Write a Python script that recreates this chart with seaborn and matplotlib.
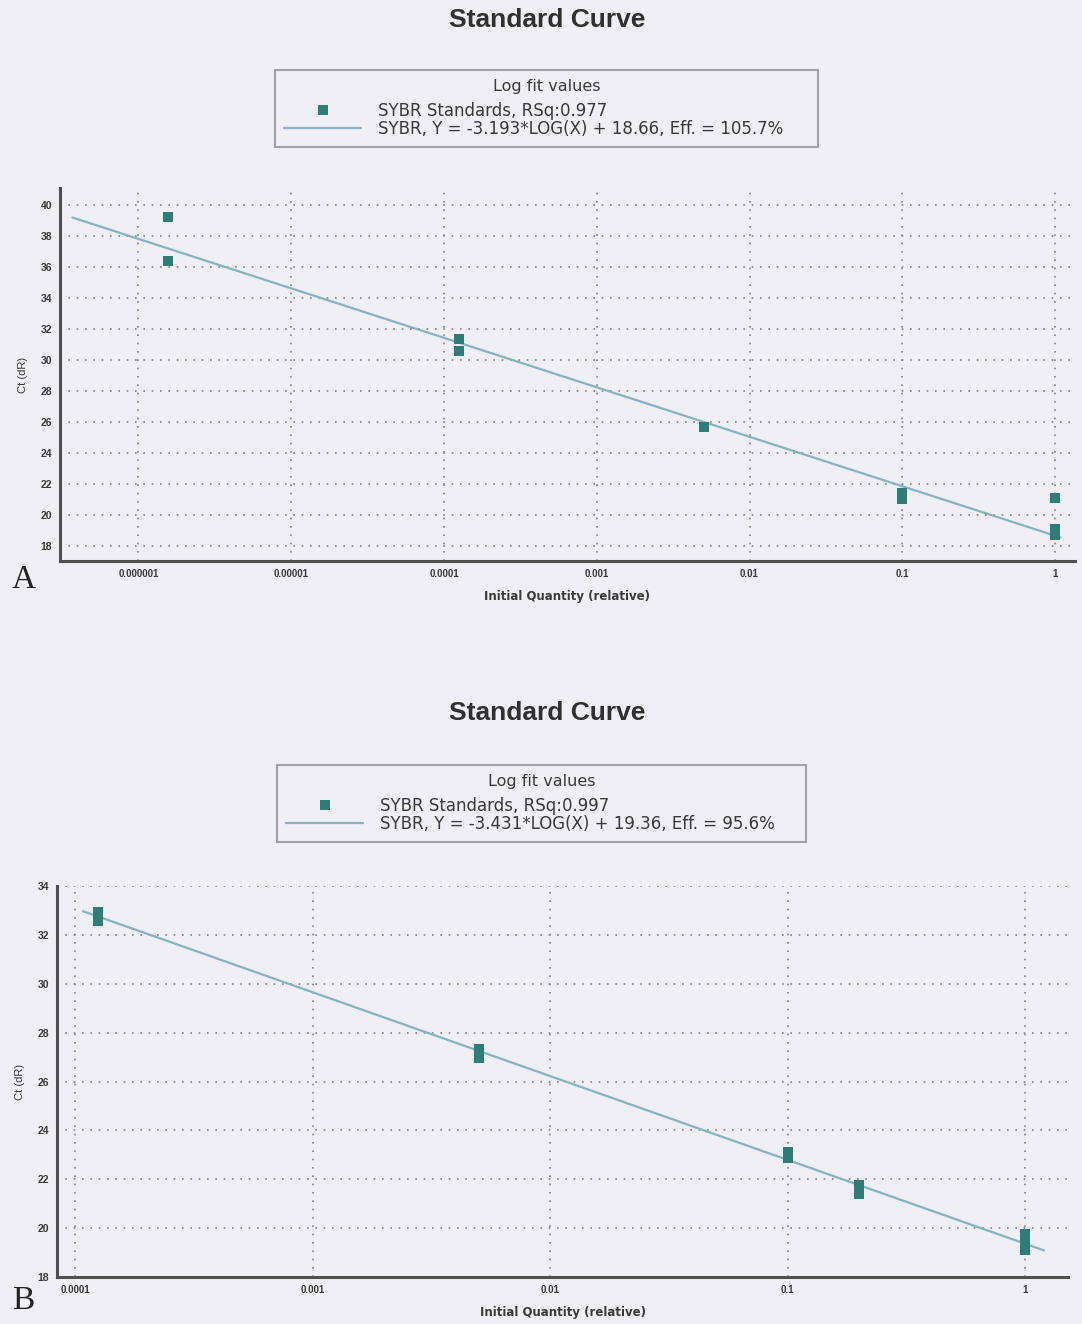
import numpy as np
import pandas as pd
import matplotlib
matplotlib.use("Agg")
import matplotlib.pyplot as plt
from matplotlib.lines import Line2D
from matplotlib.ticker import FixedLocator, LogLocator, NullFormatter, FixedFormatter
import seaborn as sns

# ---- Panel A: standards (relative quantity vs Ct) ----
a_quantity = [1.5625e-6, 1.5625e-6, 1.25e-4, 1.25e-4, 5e-3, 0.1, 0.1, 1.0, 1.0, 1.0]
a_ct = [39.2, 36.4, 31.35, 30.6, 25.7, 21.4, 21.05, 21.1, 19.1, 18.7]
a_slope, a_intercept = -3.193, 18.66
a_rsq, a_eff = 0.977, 105.7
a_fit_range = [3.7e-7, 1.08]
a_xticks = [1e-6, 1e-5, 1e-4, 1e-3, 1e-2, 1e-1, 1]
a_xticklabels = ["0.000001", "0.00001", "0.0001", "0.001", "0.01", "0.1", "1"]
a_yticks = list(range(18, 41, 2))

# ---- Panel B ----
b_quantity = [1.25e-4, 1.25e-4, 1.25e-4, 5e-3, 5e-3, 0.1, 0.1, 0.2, 0.2, 1.0, 1.0, 1.0]
b_ct = [32.95, 32.75, 32.55, 27.35, 26.95, 23.1, 22.85, 21.75, 21.4, 19.75, 19.45, 19.1]
b_slope, b_intercept = -3.431, 19.36
b_rsq, b_eff = 0.997, 95.6
b_fit_range = [1.08e-4, 1.2]
b_xticks = [1e-4, 1e-3, 1e-2, 1e-1, 1]
b_xticklabels = ["0.0001", "0.001", "0.01", "0.1", "1"]
b_yticks = list(range(18, 35, 2))

BG = "#efeff5"
MARKER = "#2e7d77"
FITLINE = "#86b3c2"
AXIS = "#505050"
TEXT = "#3a3a3a"
WIDE = ["DejaVu Sans"]

sns.set_style("white")
plt.rcParams["font.family"] = ["Liberation Sans", "DejaVu Sans"]

fig = plt.figure(figsize=(10.82, 13.24), dpi=100, facecolor=BG)


def draw_panel(rect, qty, ct, slope, intercept, rsq, eff, fit_range,
               xticks, xticklabels, yticks, xlim, ylim,
               title_y, legend_box, panel_label, panel_y):
    ax = fig.add_axes(rect)
    ax.set_facecolor(BG)
    pts = pd.DataFrame({"qty": qty, "ct": ct})
    fx = np.logspace(np.log10(fit_range[0]), np.log10(fit_range[1]), 50)
    fit = pd.DataFrame({"qty": fx, "ct": slope * np.log10(fx) + intercept})

    sns.lineplot(data=fit, x="qty", y="ct", ax=ax, color=FITLINE, linewidth=1.6, zorder=3)
    sns.scatterplot(data=pts, x="qty", y="ct", ax=ax, marker="s", s=55,
                    color=MARKER, edgecolor=MARKER, linewidth=0, zorder=4)

    ax.set_xscale("log")
    ax.set_xlim(*xlim)
    ax.set_ylim(*ylim)
    ax.xaxis.set_major_locator(FixedLocator(xticks))
    ax.xaxis.set_major_formatter(FixedFormatter(xticklabels))
    ax.xaxis.set_minor_locator(LogLocator(base=10, subs=np.arange(2, 10)))
    ax.xaxis.set_minor_formatter(NullFormatter())
    ax.yaxis.set_major_locator(FixedLocator(yticks))
    ax.yaxis.set_minor_locator(FixedLocator([v + 1 for v in yticks[:-1]]))

    ax.grid(True, which="major", linestyle=(0, (1, 4)), color="#858585", linewidth=1.2)
    for side in ("top", "right"):
        ax.spines[side].set_visible(False)
    for side in ("left", "bottom"):
        ax.spines[side].set_color(AXIS)
        ax.spines[side].set_linewidth(2.2)

    ax.tick_params(which="major", direction="inout", length=5, width=1.4, color=AXIS,
                   labelsize=7, labelcolor=TEXT, pad=3)
    ax.tick_params(axis="y", which="major", labelsize=7.5)
    ax.tick_params(which="minor", direction="inout", length=4, width=1.2, color=AXIS)
    for lab in ax.get_xticklabels() + ax.get_yticklabels():
        lab.set_fontweight("bold")

    ax.set_xlabel("Initial Quantity (relative)", fontsize=8.5, fontweight="bold",
                  family=WIDE, color=TEXT, labelpad=8)
    ax.set_ylabel("Ct (dR)", fontsize=8, color=TEXT, labelpad=9)

    fig.text(0.5055, title_y, "Standard Curve", ha="center", va="center",
             fontsize=19, fontweight="bold", color="#303030")

    handles = [
        Line2D([], [], marker="s", linestyle="none", markersize=7,
               color=MARKER, markeredgewidth=0),
        Line2D([], [], color=FITLINE, linewidth=1.6),
    ]
    labels = [
        f"SYBR Standards, RSq:{rsq:.3f}",
        f"SYBR, Y = {slope:.3f}*LOG(X) + {intercept:.2f}, Eff. = {eff:.1f}%",
    ]
    leg = ax.legend(handles, labels, title="Log fit values\n", loc="upper left",
                    bbox_to_anchor=legend_box, bbox_transform=fig.transFigure,
                    mode="expand", borderaxespad=0,
                    prop={"family": WIDE, "size": 12},
                    title_fontproperties={"family": WIDE, "size": 11.5},
                    frameon=True, fancybox=False,
                    handlelength=4.6, handletextpad=1.0, borderpad=0.55,
                    labelspacing=0.0, edgecolor="#a0a0aa", facecolor=BG,
                    framealpha=1.0)
    leg.get_frame().set_linewidth(1.5)
    leg.get_title().set_linespacing(0.42)
    for t in leg.get_texts():
        t.set_color(TEXT)
    leg.get_title().set_color(TEXT)

    fig.text(0.011, panel_y, panel_label, ha="left", va="baseline",
             fontsize=24, family=["Liberation Serif", "DejaVu Serif"], color="#222222")
    return ax


draw_panel([60 / 1082, 1 - 561 / 1324, 1015 / 1082, 373 / 1324],
           a_quantity, a_ct, a_slope, a_intercept, a_rsq, a_eff, a_fit_range,
           a_xticks, a_xticklabels, a_yticks,
           xlim=(10 ** -6.513, 10 ** 0.13), ylim=(17.03, 41.1),
           title_y=1 - 20 / 1324,
           legend_box=(275 / 1082, 1 - 148 / 1324, 543 / 1082, 78 / 1324),
           panel_label="A", panel_y=1 - 588 / 1324)

draw_panel([57 / 1082, 1 - 1277 / 1324, 1011 / 1082, 391 / 1324],
           b_quantity, b_ct, b_slope, b_intercept, b_rsq, b_eff, b_fit_range,
           b_xticks, b_xticklabels, b_yticks,
           xlim=(10 ** -4.076, 10 ** 0.18), ylim=(18, 34),
           title_y=1 - 713 / 1324,
           legend_box=(277 / 1082, 1 - 845 / 1324, 529 / 1082, 80 / 1324),
           panel_label="B", panel_y=1 - 1309 / 1324)

fig.savefig("out.png", dpi=100, facecolor=BG)
